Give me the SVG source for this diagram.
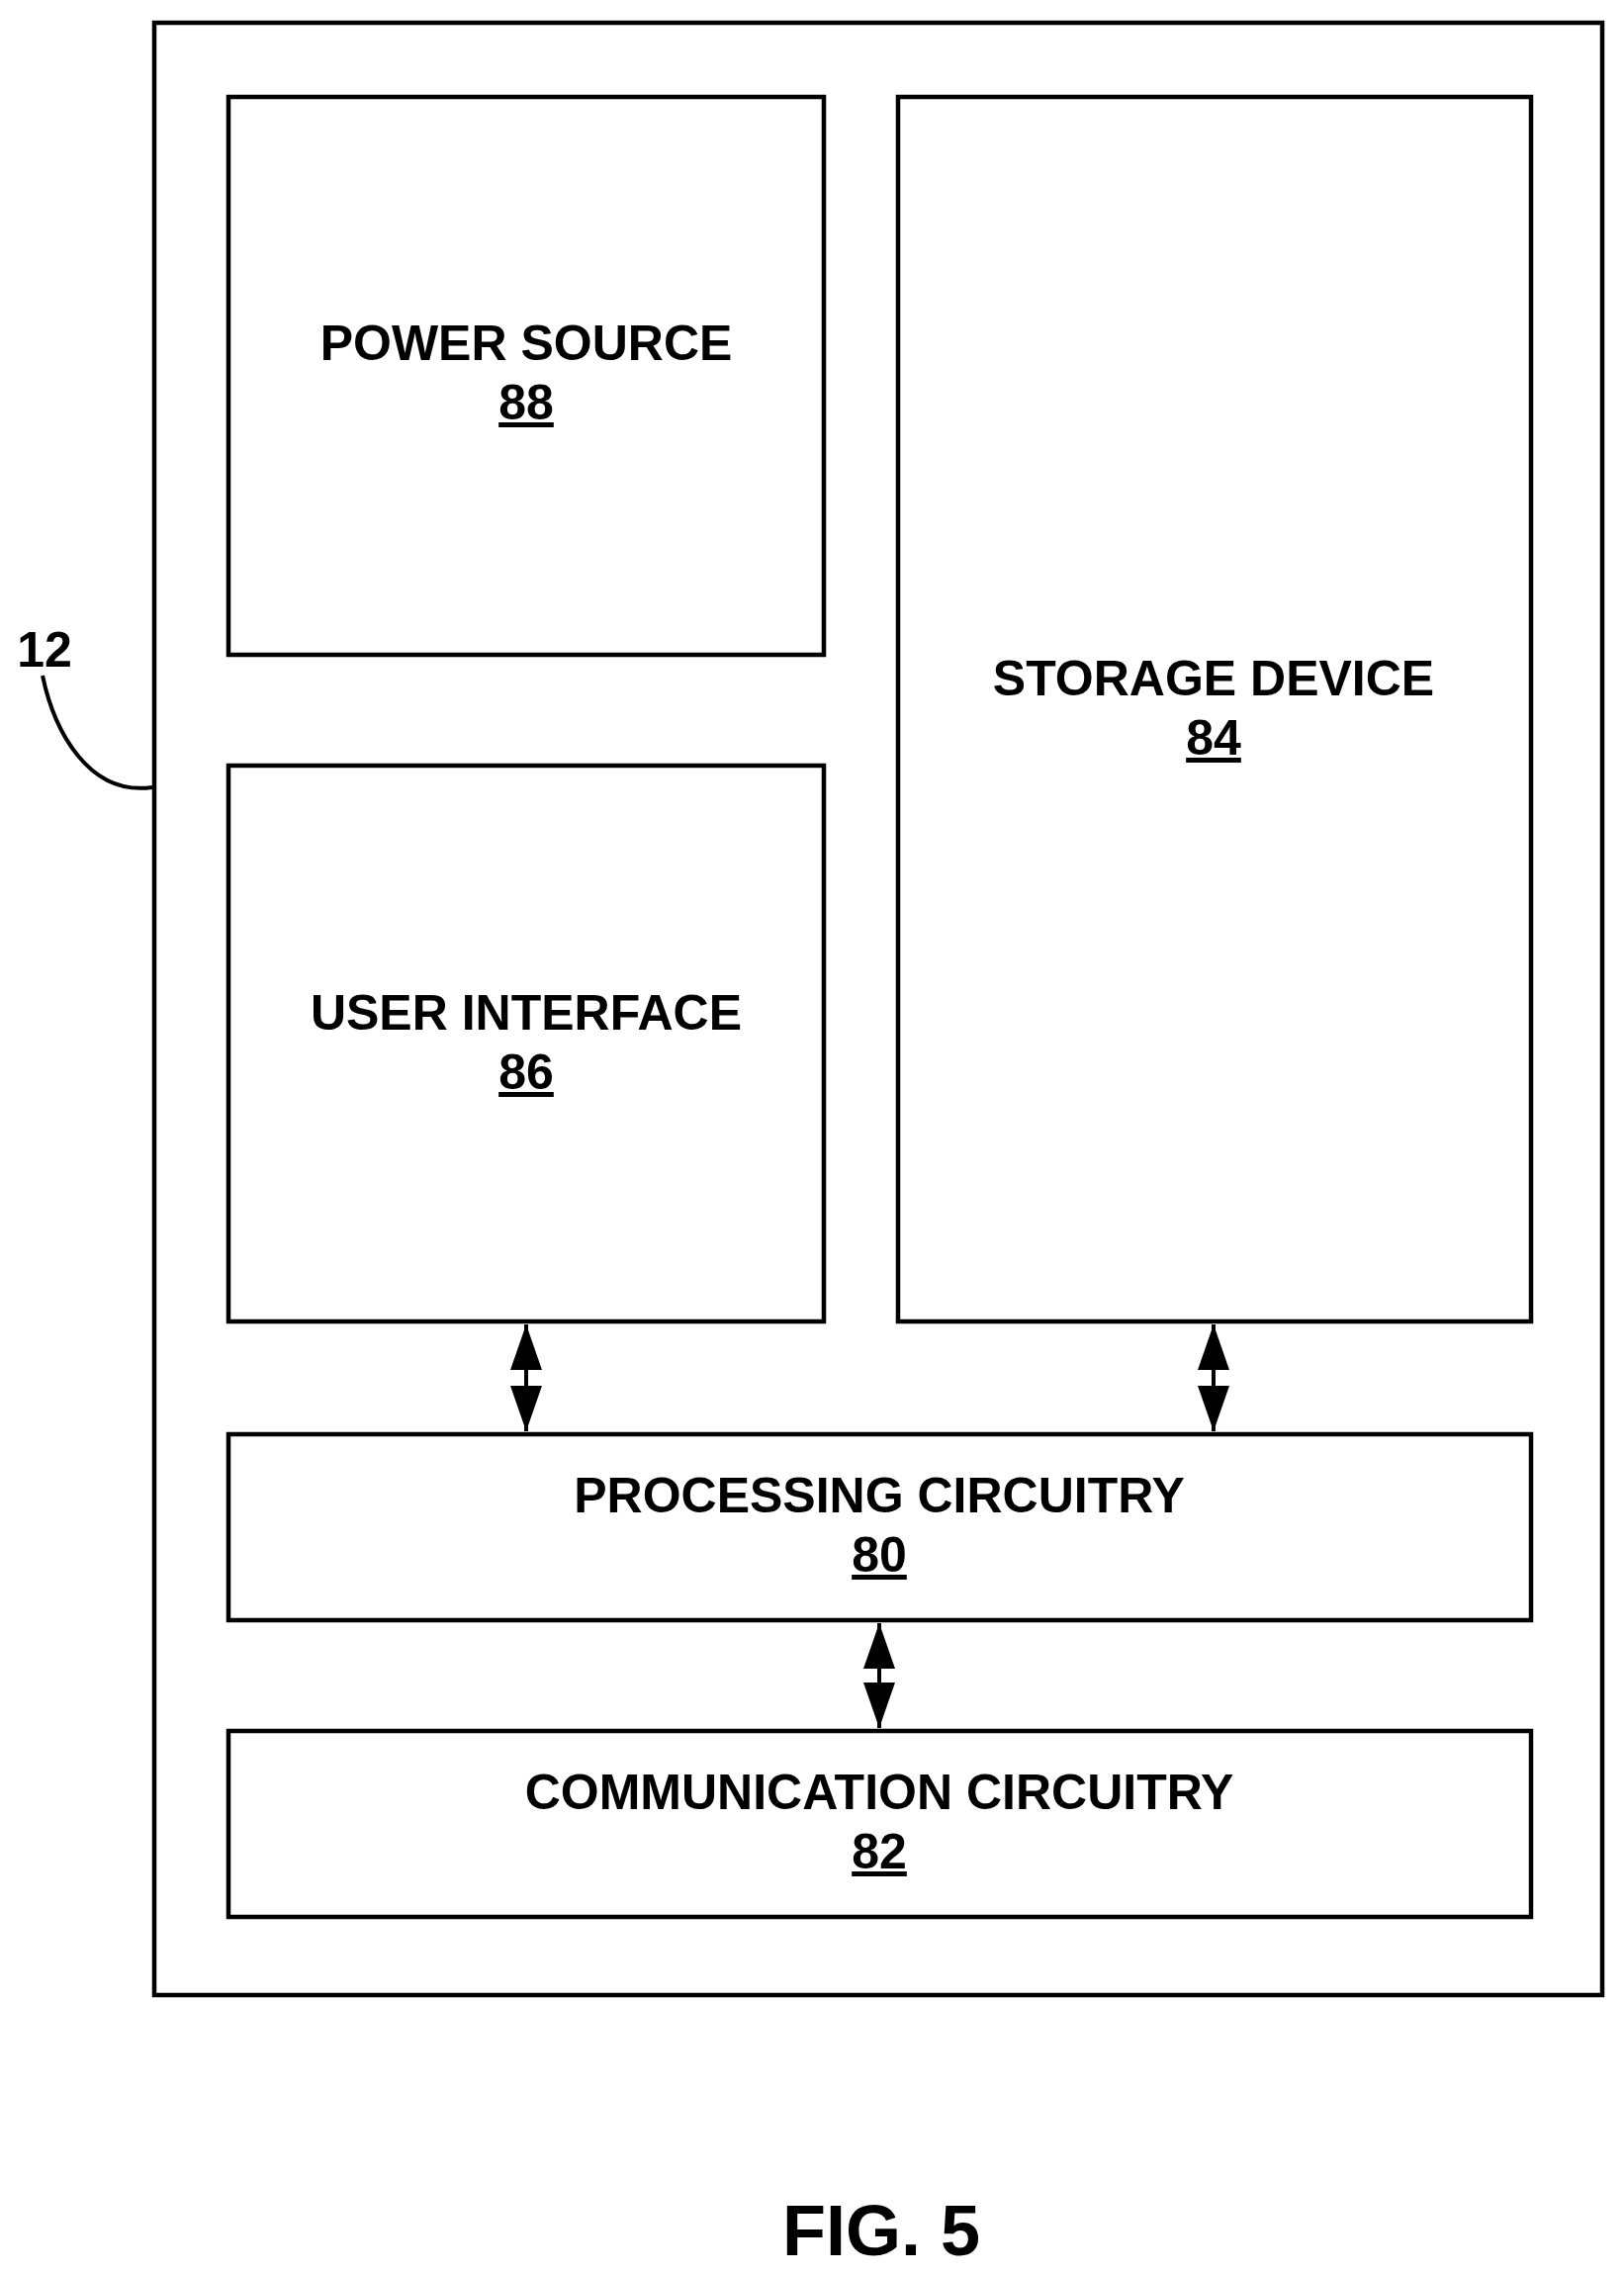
<svg xmlns="http://www.w3.org/2000/svg" width="1642" height="2299" viewBox="0 0 1642 2299">
<style>
.b{fill:none;stroke:#000;stroke-width:4.5}
.t{font-family:"Liberation Sans",Arial,sans-serif;font-weight:bold;font-size:50px;text-anchor:middle;fill:#000}
.n{text-decoration:underline}
.c{stroke:#000;stroke-width:4;fill:none}
</style>
<defs>
<marker id="h" viewBox="0 0 46 32" refX="46" refY="16" markerWidth="46" markerHeight="32" markerUnits="userSpaceOnUse" orient="auto-start-reverse">
<path d="M0,0 L46,16 L0,32 z" fill="#000"/>
</marker>
</defs>
<g id="device12"><rect class="b" x="156" y="23" width="1464" height="1994"/></g>
<g id="power88"><rect class="b" x="231" y="98" width="602" height="564"/><text class="t" x="532" y="364">POWER SOURCE</text><text class="t n" x="532" y="424">88</text></g>
<g id="storage84"><rect class="b" x="908" y="98" width="640" height="1238"/><text class="t" x="1227" y="703">STORAGE DEVICE</text><text class="t n" x="1227" y="763">84</text></g>
<g id="ui86"><rect class="b" x="231" y="774" width="602" height="562"/><text class="t" x="532" y="1041">USER INTERFACE</text><text class="t n" x="532" y="1101">86</text></g>
<g id="proc80"><rect class="b" x="231" y="1450" width="1317" height="188"/><text class="t" x="889" y="1529">PROCESSING CIRCUITRY</text><text class="t n" x="889" y="1589">80</text></g>
<g id="comm82"><rect class="b" x="231" y="1750" width="1317" height="188"/><text class="t" x="889" y="1829">COMMUNICATION CIRCUITRY</text><text class="t n" x="889" y="1889">82</text></g>
<g id="connectors">
<line class="c" x1="532" y1="1339" x2="532" y2="1447" marker-start="url(#h)" marker-end="url(#h)"/>
<line class="c" x1="1227" y1="1339" x2="1227" y2="1447" marker-start="url(#h)" marker-end="url(#h)"/>
<line class="c" x1="889" y1="1641" x2="889" y2="1747" marker-start="url(#h)" marker-end="url(#h)"/>
<path class="c" d="M43,683 C55,740 90,805 154,796"/>
</g>
<text class="t" x="45" y="674">12</text>
<text class="t" x="891" y="2280" style="font-size:72px">FIG. 5</text>
</svg>
